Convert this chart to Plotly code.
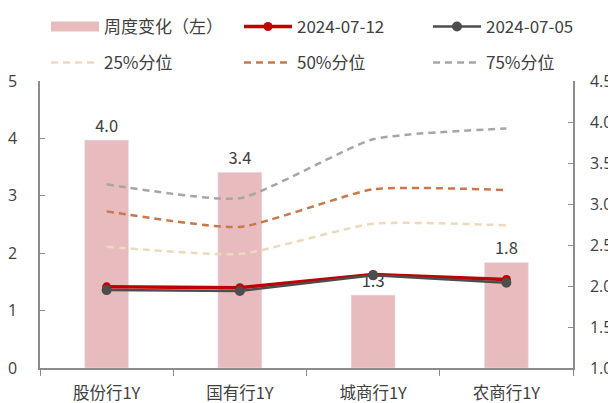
import plotly.graph_objects as go

# categories and values
banks = ["股份行1Y", "国有行1Y", "城商行1Y", "农商行1Y"]
weekly_chg = [3.97, 3.41, 1.27, 1.84]          # left axis, bars
rate_0712 = [1.99, 1.98, 2.14, 2.08]           # right axis
rate_0705 = [1.95, 1.94, 2.13, 2.04]
pct25 = [2.48, 2.39, 2.76, 2.74]
pct50 = [2.91, 2.72, 3.18, 3.17]
pct75 = [3.24, 3.07, 3.79, 3.92]

FONT = "Noto Sans CJK SC, Open Sans, sans-serif"
TXT = "#404040"

fig = go.Figure()

# bars (left axis)
fig.add_trace(go.Bar(x=banks, y=weekly_chg, marker_color="#E8BBBE", width=0.33,
                     text=[f"{v:.1f}" for v in weekly_chg], textposition="outside",
                     textfont=dict(size=16.5, color=TXT), cliponaxis=False,
                     showlegend=False, yaxis="y"))
# wide legend swatch for the bars
fig.add_trace(go.Scatter(x=[None], y=[None], mode="lines", name="周度变化（左）",
                         line=dict(color="#E8BBBE", width=12), legend="legend"))

# percentile lines (right axis); 75% goes in the third legend column
for vals, name, col, leg in [(pct25, "25%分位", "#EBDABD", "legend2"),
                             (pct50, "50%分位", "#C8784A", "legend2"),
                             (pct75, "75%分位", "#A6A6A6", "legend4")]:
    fig.add_trace(go.Scatter(x=banks, y=vals, mode="lines", name=name, yaxis="y2",
                             line=dict(color=col, width=2.5, dash="7px,5px",
                                       shape="spline", smoothing=0.5),
                             legend=leg))

fig.add_trace(go.Scatter(x=banks, y=rate_0712, mode="lines+markers", name="2024-07-12",
                         yaxis="y2", line=dict(color="#C00000", width=3.5),
                         marker=dict(size=9, color="#C00000"), legend="legend"))
fig.add_trace(go.Scatter(x=banks, y=rate_0705, mode="lines+markers", name="2024-07-05",
                         yaxis="y2", line=dict(color="#4D4D4D", width=2.5),
                         marker=dict(size=10, color="#4D4D4D"), legend="legend3"))

axis_common = dict(showgrid=False, zeroline=False, showline=True, linecolor="#8C8C8C",
                   linewidth=1.5, ticks="inside", ticklen=5, tickcolor="#8C8C8C",
                   automargin=False,
                   tickfont=dict(size=16, color=TXT, family="Open Sans"))

leg_common = dict(orientation="h", xref="container", yref="container",
                  xanchor="left", yanchor="middle",
                  itemwidth=48, entrywidth=130,
                  font=dict(size=17, color=TXT, family=FONT),
                  bgcolor="rgba(0,0,0,0)", traceorder="normal")

row1 = 1 - 19 / 395
row2 = 1 - 55 / 395
col1 = 38 / 608
col3 = 420 / 608

# page body has an 8px margin, so the figure is drawn 8px in from the top-left
fig.update_layout(
    width=608, height=395,
    margin=dict(l=32, r=43, t=64, b=35),
    plot_bgcolor="white", paper_bgcolor="white",
    font=dict(family=FONT, color=TXT),
    bargap=0.67,
    xaxis=dict(showgrid=False, showline=True, linecolor="#8C8C8C", linewidth=1.5,
               ticks="outside", ticklen=6, tickcolor="#8C8C8C", tickson="boundaries",
               automargin=False,
               tickfont=dict(size=16.5, color=TXT), ticklabelstandoff=9),
    yaxis=dict(range=[0, 5], dtick=1, ticklabelstandoff=18, **axis_common),
    yaxis2=dict(range=[1, 4.5], dtick=0.5, tickformat=".1f", overlaying="y",
                side="right", ticklabelstandoff=12, **axis_common),
    legend=dict(x=col1, y=row1, **leg_common),
    legend2=dict(x=col1, y=row2, **leg_common),
    legend3=dict(x=col3, y=row1, **leg_common),
    legend4=dict(x=col3, y=row2, **leg_common),
)

fig.write_html("out.html")
